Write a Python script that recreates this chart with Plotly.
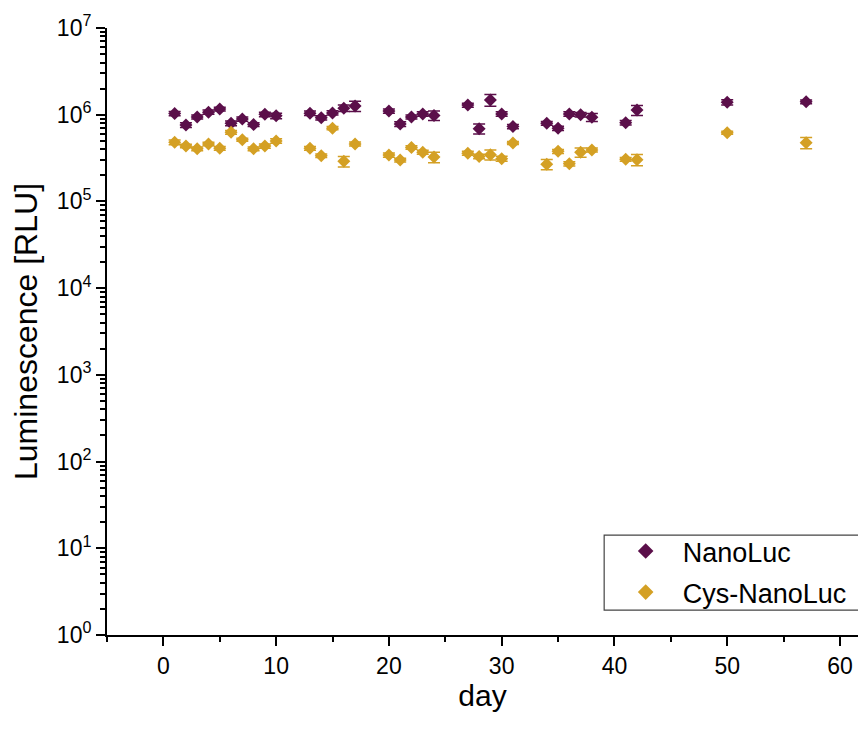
import plotly.graph_objects as go

# Sampling days (both constructs measured on the same days)
days = [1, 2, 3, 4, 5, 6, 7, 8, 9, 10, 13, 14, 15, 16, 17, 20, 21, 22, 23, 24,
        27, 28, 29, 30, 31, 34, 35, 36, 37, 38, 41, 42, 50, 57]

# Luminescence [RLU], mean and error
nanoluc = [1.03e6, 7.6e5, 9.4e5, 1.07e6, 1.16e6, 7.96e5, 8.9e5, 7.7e5, 1.01e6, 9.7e5,
           1.04e6, 9.2e5, 1.05e6, 1.19e6, 1.26e6, 1.1e6, 7.8e5, 9.4e5, 1.02e6, 9.8e5,
           1.29e6, 6.9e5, 1.48e6, 1.02e6, 7.3e5, 7.96e5, 6.97e5, 1.02e6, 1.0e6, 9.33e5,
           8.1e5, 1.13e6, 1.39e6, 1.41e6]
nanoluc_err = [6e4, 5e4, 5e4, 6e4, 6e4, 5e4, 5e4, 4e4, 6e4, 7e4,
               6e4, 5e4, 6e4, 1.0e5, 1.7e5, 6e4, 5e4, 5e4, 6e4, 1.2e5,
               7e4, 9e4, 2.3e5, 6e4, 4e4, 4e4, 4e4, 6e4, 6e4, 1.0e5,
               5e4, 1.5e5, 1.0e5, 7e4]

cys_nanoluc = [4.8e5, 4.35e5, 4.05e5, 4.6e5, 4.1e5, 6.27e5, 5.15e5, 4.05e5, 4.35e5, 4.98e5,
               4.1e5, 3.37e5, 7.0e5, 2.9e5, 4.6e5, 3.43e5, 3.0e5, 4.2e5, 3.7e5, 3.25e5,
               3.6e5, 3.3e5, 3.46e5, 3.11e5, 4.72e5, 2.68e5, 3.78e5, 2.72e5, 3.68e5, 3.92e5,
               3.06e5, 3.03e5, 6.2e5, 4.75e5]
cys_nanoluc_err = [3e4, 2e4, 2e4, 2e4, 2e4, 3e4, 2e4, 2e4, 2.5e4, 3e4,
                   2e4, 1.5e4, 3e4, 4e4, 2.5e4, 2e4, 1.5e4, 2e4, 2e4, 4.5e4,
                   2e4, 2e4, 4.6e4, 2e4, 2e4, 3.6e4, 2e4, 1.5e4, 4.5e4, 2e4,
                   1.5e4, 4.5e4, 2.5e4, 7e4]

PURPLE = "#5B0F4A"
GOLD = "#D4A024"
FONT = "Arial, Liberation Sans, sans-serif"

y_exponents = [0, 1, 2, 3, 4, 5, 6, 7]
y_tickvals = [10 ** e for e in y_exponents]
y_ticktext = ["10<sup>%d</sup>" % e for e in y_exponents]
y_minor = [m * 10 ** e for e in y_exponents[:-1] for m in range(2, 10)]

fig = go.Figure()
for name, vals, errs, col in [("NanoLuc", nanoluc, nanoluc_err, PURPLE),
                              ("Cys-NanoLuc", cys_nanoluc, cys_nanoluc_err, GOLD)]:
    fig.add_trace(go.Scatter(
        x=days, y=vals, name=name, legendgroup=name, mode="markers",
        marker=dict(symbol="diamond", size=10, color=col, line=dict(width=0)),
        error_y=dict(type="data", array=errs, visible=True, color=col,
                     thickness=1.5, width=6),
    ))

# Legend frame
fig.add_shape(type="rect", xref="paper", yref="paper",
              x0=0.662, x1=1.05, y0=0.041, y1=0.1647,
              line=dict(color="#444444", width=1.2), fillcolor="rgba(0,0,0,0)")

fig.update_layout(
    width=858, height=729,
    margin=dict(l=107, r=0, t=28, b=94),
    paper_bgcolor="white", plot_bgcolor="white",
    font=dict(family=FONT, color="black"),
    showlegend=True,
    legend=dict(x=0.668, y=0.178, xanchor="left", yanchor="top",
                bgcolor="rgba(0,0,0,0)", borderwidth=0,
                font=dict(size=27, family=FONT), itemsizing="constant",
                itemwidth=64, tracegroupgap=3),
    xaxis=dict(
        title=dict(text="day", font=dict(size=30), standoff=2),
        range=[-5, 61.6], showgrid=False, zeroline=False,
        showline=True, linecolor="black", linewidth=2, mirror=False,
        tickmode="linear", tick0=0, dtick=10,
        ticks="outside", ticklen=9, tickwidth=2, tickcolor="black",
        tickfont=dict(size=23),
        minor=dict(tickmode="linear", tick0=-5, dtick=5, ticks="outside",
                   ticklen=5, tickwidth=2, tickcolor="black"),
    ),
    yaxis=dict(
        title=dict(text="Luminescence [RLU]", font=dict(size=32), standoff=10),
        type="log", range=[0, 7], showgrid=False, zeroline=False,
        showline=True, linecolor="black", linewidth=2,
        tickmode="array", tickvals=y_tickvals, ticktext=y_ticktext,
        ticks="outside", ticklen=9, tickwidth=2, tickcolor="black",
        tickfont=dict(size=23),
        minor=dict(tickmode="array", tickvals=y_minor, ticks="outside",
                   ticklen=5, tickwidth=1.5, tickcolor="black"),
    ),
)

fig.write_html("out.html")
